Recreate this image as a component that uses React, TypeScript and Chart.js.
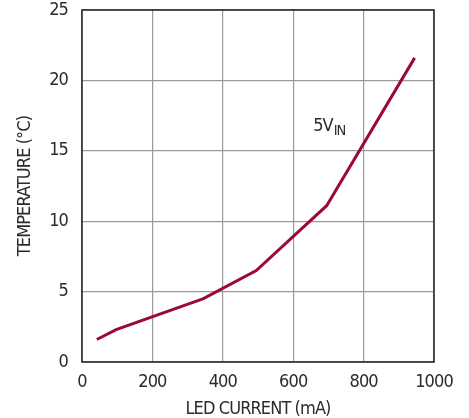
import React, { useEffect, useRef } from "react";
import { Chart, registerables } from "chart.js";

Chart.register(...registerables);

const currentMA = [42, 97, 345, 495, 695, 945];
const temperatureC = [1.6, 2.3, 4.5, 6.5, 11.1, 21.6];
const xTicks = [0, 200, 400, 600, 800, 1000];
const yTicks = [0, 5, 10, 15, 20, 25];
const seriesLabel = "5V";
const seriesSub = "IN";
const labelAt = { x: 657, y: 16.4 };

const FONT = "'DejaVu Sans Condensed', 'Liberation Sans Narrow', sans-serif";
const TEXT = "#2b2b2b";

const spacingPlugin = {
  id: "letterSpacing",
  beforeDraw(chart: any) {
    chart.ctx.letterSpacing = "-0.9px";
  },
};

const labelPlugin = {
  id: "seriesLabel",
  afterDatasetsDraw(chart: any) {
    const { ctx, scales } = chart;
    const px = scales.x.getPixelForValue(labelAt.x);
    const py = scales.y.getPixelForValue(labelAt.y);
    ctx.save();
    ctx.letterSpacing = "-1px";
    ctx.fillStyle = TEXT;
    ctx.textBaseline = "alphabetic";
    ctx.textAlign = "left";
    ctx.font = `18px ${FONT}`;
    ctx.fillText(seriesLabel, px, py);
    const w = ctx.measureText(seriesLabel).width;
    ctx.font = `14.5px ${FONT}`;
    ctx.fillText(seriesSub, px + w + 1, py + 4);
    ctx.restore();
  },
};

const borderPlugin = {
  id: "plotBorder",
  afterDatasetsDraw(chart: any) {
    const { ctx, chartArea } = chart;
    ctx.save();
    ctx.strokeStyle = "#222222";
    ctx.lineWidth = 1.5;
    ctx.strokeRect(chartArea.left, chartArea.top, chartArea.right - chartArea.left, chartArea.bottom - chartArea.top);
    ctx.restore();
  },
};

export default function App() {
  const ref = useRef<HTMLCanvasElement>(null);
  useEffect(() => {
    if (!ref.current) return;
    const chart = new Chart(ref.current, {
      type: "line",
      data: {
        datasets: [
          {
            data: currentMA.map((x, i) => ({ x, y: temperatureC[i] })),
            borderColor: "#9b0a35",
            borderWidth: 3,
            pointRadius: 0,
            tension: 0,
            fill: false,
          },
        ],
      },
      options: {
        animation: false,
        responsive: false,
        maintainAspectRatio: false,
        layout: { padding: { left: 0, top: 10, right: 35, bottom: 0 } },
        plugins: { legend: { display: false }, tooltip: { enabled: false } },
        scales: {
          x: {
            type: "linear",
            min: 0,
            max: 1000,
            afterBuildTicks: (s: any) => {
              s.ticks = xTicks.map((v) => ({ value: v }));
            },
            afterFit: (s: any) => {
              s.height = 56;
              s.paddingLeft = 0;
              s.paddingRight = 0;
            },
            grid: { color: "#9a9a9a", lineWidth: 1.2, drawTicks: false },
            border: { display: false },
            ticks: {
              color: TEXT,
              font: { family: FONT, size: 18 },
              padding: 10,
              maxRotation: 0,
              callback: (v: any) => String(v),
            },
            title: {
              display: true,
              text: "LED CURRENT (mA)",
              color: TEXT,
              font: { family: FONT, size: 18, lineHeight: 1 },
              padding: { top: 0, bottom: 0 },
            },
          },
          y: {
            type: "linear",
            min: 0,
            max: 25,
            afterBuildTicks: (s: any) => {
              s.ticks = yTicks.map((v) => ({ value: v }));
            },
            afterFit: (s: any) => {
              s.width = 82;
              s.paddingTop = 0;
              s.paddingBottom = 0;
            },
            grid: { color: "#9a9a9a", lineWidth: 1.2, drawTicks: false },
            border: { display: false },
            ticks: { color: TEXT, font: { family: FONT, size: 18 }, padding: 14, callback: (v: any) => String(v) },
            title: {
              display: true,
              text: "TEMPERATURE (°C)",
              color: TEXT,
              font: { family: FONT, size: 18, lineHeight: 1 },
              padding: { top: 16, bottom: 0 },
            },
          },
        },
      },
      plugins: [spacingPlugin, labelPlugin, borderPlugin],
    });
    return () => chart.destroy();
  }, []);
  return (
    <div style={{ position: "fixed", left: 0, top: 0, width: 469, height: 418, background: "#fff" }}>
      <canvas ref={ref} width={469} height={418} style={{ width: 469, height: 418 }} />
    </div>
  );
}
